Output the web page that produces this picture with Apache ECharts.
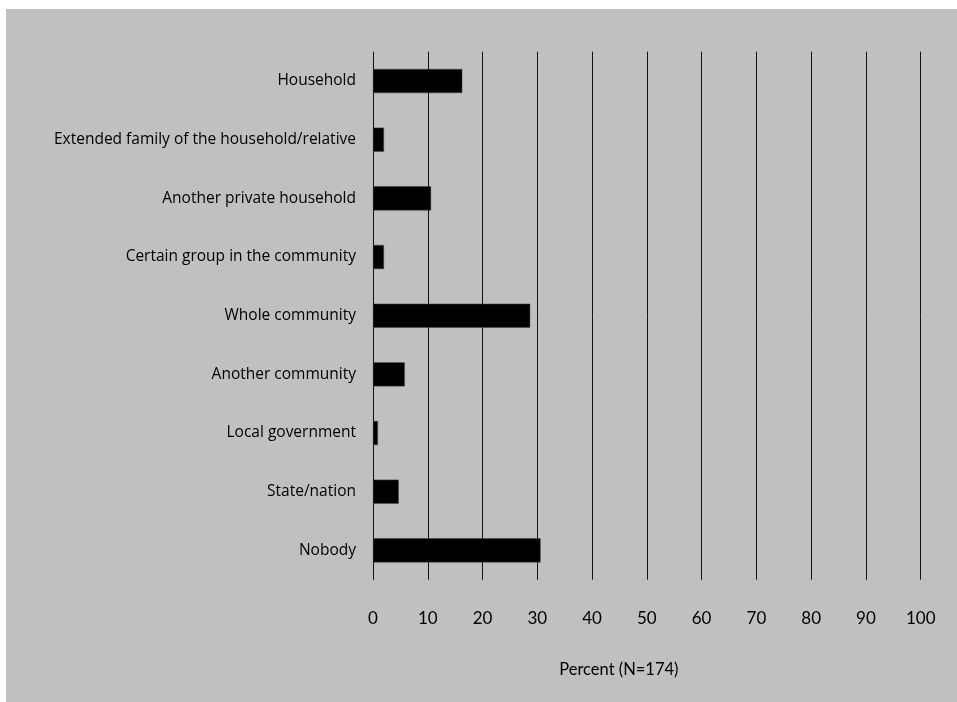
<!DOCTYPE html>
<html>
<head>
<meta charset="utf-8">
<script src="https://cdn.jsdelivr.net/npm/echarts@6/dist/echarts.min.js"></script>
<style>
html,body{margin:0;padding:0;background:#fff;width:957px;height:702px;overflow:hidden;}
#chart{position:absolute;left:6px;top:9px;width:951px;height:693px;background:#c0c0c0;}
</style>
</head>
<body>
<div id="chart"></div>
<script>
const categories = [
  "Household",
  "Extended family of the household/relative",
  "Another private household",
  "Certain group in the community",
  "Whole community",
  "Another community",
  "Local government",
  "State/nation",
  "Nobody"
];
const percentValues = [16.3, 2.0, 10.6, 2.0, 28.7, 5.8, 0.9, 4.7, 30.6];
const xTicks = [0, 10, 20, 30, 40, 50, 60, 70, 80, 90, 100];
const xAxisName = "Percent (N=174)";

const chart = echarts.init(document.getElementById('chart'), null, {renderer: 'canvas'});
const font = "Lato, 'Open Sans', sans-serif";
const catFont = "'Open Sans', Lato, sans-serif";
chart.setOption({
  animation: false,
  backgroundColor: '#c0c0c0',
  grid: {left: 367, right: 36.3, top: 42.7, bottom: 122.3, containLabel: false},
  xAxis: {
    type: 'value',
    min: xTicks[0],
    max: xTicks[xTicks.length - 1],
    interval: 10,
    name: xAxisName,
    nameLocation: 'middle',
    nameGap: 81,
    nameTextStyle: {color: '#000', fontFamily: font, fontSize: 16.5, padding: [0, 56, 0, 0]},
    axisLine: {show: false},
    axisTick: {show: false},
    axisLabel: {color: '#000', fontFamily: font, fontSize: 17, margin: 30},
    splitLine: {show: true, lineStyle: {color: '#111', width: 1}}
  },
  yAxis: {
    type: 'category',
    data: categories,
    inverse: true,
    axisLine: {show: false},
    axisTick: {show: false},
    axisLabel: {color: '#000', fontFamily: catFont, fontSize: 15.5, margin: 17},
    splitLine: {show: false}
  },
  series: [{
    type: 'bar',
    data: percentValues,
    barCategoryGap: '59%',
    itemStyle: {color: '#000', borderColor: '#444', borderWidth: 0.5}
  }]
});
</script>
</body>
</html>
